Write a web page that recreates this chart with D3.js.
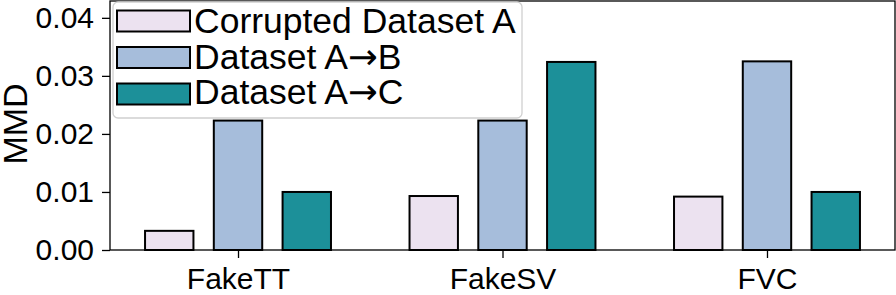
<!DOCTYPE html>
<html>
  <head>
    <script src="https://d3js.org/d3.v7.min.js"></script>
    <style>
      body { margin: 0; background: #fff; }
      text { font-family: "Liberation Sans", Arial, sans-serif; fill: #000; }
    </style>
  </head>
  <body>
    <script>
      const categories = ['FakeTT', 'FakeSV', 'FVC'];
      const seriesNames = [['Corrupted Dataset A'], ['Dataset A', '\u2192', 'B'], ['Dataset A', '\u2192', 'C']];
      const corrupted = [0.0033, 0.0093, 0.0092];
      const datasetAB = [0.0223, 0.0223, 0.0325];
      const datasetAC = [0.0100, 0.0324, 0.0100];
      const colors = ['#ece2f0', '#a6bddb', '#1c9099'];
      const yTicks = [0, 0.01, 0.02, 0.03, 0.04];

      const series = [corrupted, datasetAB, datasetAC];

      const width = 896;
      const height = 295;
      const mLeft = 110, mRight = 895, mTop = 1, mBottom = 250;

      const x = d3.scaleLinear().domain([-0.484, 2.484]).range([mLeft, mRight]);
      const y = d3.scaleLinear().domain([0, 0.0429]).range([mBottom, mTop]);

      const offset = 0.26;
      const barW = 0.183;

      const svg = d3.select('body')
        .append('svg')
        .attr('width', width)
        .attr('height', height);

      // bars
      series.forEach((vals, j) => {
        svg.selectAll('.bar' + j)
          .data(vals)
          .enter()
          .append('rect')
          .attr('x', (d, i) => x(i + (j - 1) * offset - barW / 2))
          .attr('y', d => y(d))
          .attr('width', x(barW) - x(0))
          .attr('height', d => y(0) - y(d))
          .attr('fill', colors[j])
          .attr('stroke', '#000')
          .attr('stroke-width', 2);
      });

      // frame
      svg.append('rect')
        .attr('x', mLeft).attr('y', mTop)
        .attr('width', mRight - mLeft).attr('height', mBottom - mTop)
        .attr('fill', 'none').attr('stroke', '#000').attr('stroke-width', 1.3);

      // y axis
      const yAxis = svg.append('g')
        .attr('transform', `translate(${mLeft},0)`)
        .call(d3.axisLeft(y).tickValues(yTicks).tickFormat(d3.format('.2f')).tickSize(8).tickPadding(8));
      yAxis.select('.domain').remove();
      yAxis.selectAll('line').attr('stroke', '#000').attr('stroke-width', 1.3);
      yAxis.selectAll('text').style('font-size', '30px').style('font-family', '"Liberation Sans", Arial, sans-serif');

      // x axis
      const xAxis = svg.append('g')
        .attr('transform', `translate(0,${mBottom})`)
        .call(d3.axisBottom(x).tickValues([0, 1, 2]).tickFormat(i => categories[i]).tickSize(8).tickPadding(10));
      xAxis.select('.domain').remove();
      xAxis.selectAll('line').attr('stroke', '#000').attr('stroke-width', 1.3);
      xAxis.selectAll('text').style('font-size', '30px').style('font-family', '"Liberation Sans", Arial, sans-serif');

      // y label
      svg.append('text')
        .attr('transform', `translate(27,${124}) rotate(-90)`)
        .attr('text-anchor', 'middle')
        .style('font-size', '34px')
        .text('MMD');

      // legend
      const lg = svg.append('g');
      lg.append('rect')
        .attr('x', 113).attr('y', 2)
        .attr('width', 409).attr('height', 116)
        .attr('rx', 5)
        .attr('fill', '#fff').attr('fill-opacity', 0.8)
        .attr('stroke', '#d0d0d0').attr('stroke-width', 1.3);
      seriesNames.forEach((parts, j) => {
        const cy = 21 + j * 36.5;
        lg.append('rect')
          .attr('x', 117).attr('y', cy - 10.5)
          .attr('width', 73).attr('height', 21)
          .attr('fill', colors[j])
          .attr('stroke', '#000').attr('stroke-width', 2);
        const t = lg.append('text')
          .attr('x', 194).attr('y', 33 + j * 35.7)
          .style('font-size', '35.5px');
        parts.forEach(p => {
          const ts = t.append('tspan').text(p);
          if (p === '\u2192') ts.style('font-family', '"DejaVu Sans", sans-serif');
        });
      });
    </script>
  </body>
</html>
